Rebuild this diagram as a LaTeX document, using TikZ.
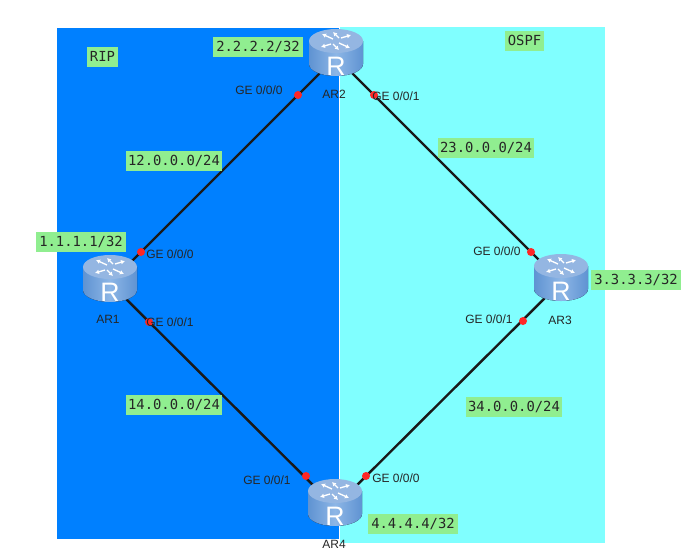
\documentclass[tikz,border=0pt]{standalone}
\usepackage{fontspec}
\setmainfont{Liberation Sans}
\newfontfamily\netfont{DejaVu Sans Mono}
\usetikzlibrary{arrows.meta}
\definecolor{ripblue}{HTML}{0080FF}
\definecolor{ospfcyan}{HTML}{80FFFF}
\definecolor{tagGreen}{HTML}{90EE90}
\definecolor{routerTop}{HTML}{94B6E2}
\definecolor{routerEdge}{HTML}{5F93D2}
\definecolor{routerMid}{HTML}{8DB6E6}
\tikzset{
  routerpt/.style={inner sep=0pt,minimum size=1pt},
  nettag/.style={fill=tagGreen,inner sep=0pt,minimum width=#1,minimum height=20*0.75pt,text=black!85,font=\netfont\fontsize{10.4}{12}\selectfont},
  nettag/.default=90*0.75pt,
  portdot/.style={circle,fill=red!85!white,inner sep=0pt,minimum size=8*0.75pt},
  porttext/.style={inner sep=0pt,text=black!85,font=\fontsize{9}{11}\selectfont},
  letterR/.style={inner sep=0pt,text=white,font=\fontsize{20}{22}\selectfont},
  link/.style={line width=1.8pt,black!90},
  cross/.style={white,line width=1pt,-{Latex[length=3pt,width=3.5pt]}},
}
% one router icon, over the node #1
\newcommand{\routericon}[1]{
  \begin{scope}[shift={(#1.center)}]
    \fill[left color=routerEdge,right color=routerEdge,middle color=routerMid] (-27,-16) -- (-27,7) arc[start angle=180,end angle=0,x radius=27,y radius=12] -- (27,-16) -- cycle;
    \fill[routerTop] (0,-16) ellipse[x radius=27,y radius=12];
    \draw[cross] (-3,-18) -- (-14,-23);
    \draw[cross] (3,-19) -- (-3,-25);
    \draw[cross] (3,-14) -- (14,-9);
    \draw[cross] (-3,-13) -- (3,-7);
    \draw[cross] (5,-19) -- (15,-22);
    \draw[cross] (-5,-13) -- (-15,-10);
    \node[letterR] (#1R) at (0,9) {R};
  \end{scope}
}

\begin{document}
\begin{tikzpicture}[x=0.75pt,y=-0.75pt]
  \useasboundingbox (0,0) rectangle (698,557);
  \fill[ospfcyan] (340,27) rectangle (605,543);
  \fill[ripblue] (57,28) rectangle (338.5,539);

  \node[routerpt] (AR1) at (110,283) {};
  \node[routerpt] (AR2) at (336,57) {};
  \node[routerpt] (AR3) at (561,282) {};
  \node[routerpt] (AR4) at (335,507) {};

  \draw[link] (AR2) -- (AR1);
  \draw[link] (AR2) -- (AR3);
  \draw[link] (AR1) -- (AR4);
  \draw[link] (AR3) -- (AR4);

  \routericon{AR1}
  \routericon{AR2}
  \routericon{AR3}
  \routericon{AR4}

  \node[porttext] (nameAR1) at (108,319) {AR1};
  \node[porttext] (nameAR2) at (334,94) {AR2};
  \node[porttext] (nameAR3) at (560,320) {AR3};
  \node[porttext] (nameAR4) at (334,544) {AR4};

  \node[portdot] (p21) at (298,95) {};
  \node[portdot] (p23) at (374,95) {};
  \node[portdot] (p12) at (141,252) {};
  \node[portdot] (p14) at (149,322) {};
  \node[portdot] (p32) at (531,252) {};
  \node[portdot] (p34) at (523,321) {};
  \node[portdot] (p41) at (306,476) {};
  \node[portdot] (p43) at (366,476) {};

  \node[porttext,anchor=west] (t21) at (235,90) {GE 0/0/0};
  \node[porttext,anchor=west] (t23) at (372,96) {GE 0/0/1};
  \node[porttext,anchor=west] (t12) at (146,254) {GE 0/0/0};
  \node[porttext,anchor=west] (t14) at (146,322) {GE 0/0/1};
  \node[porttext,anchor=west] (t32) at (473,251) {GE 0/0/0};
  \node[porttext,anchor=west] (t34) at (465,319) {GE 0/0/1};
  \node[porttext,anchor=west] (t41) at (243,480) {GE 0/0/1};
  \node[porttext,anchor=west] (t43) at (372,478) {GE 0/0/0};

  \node[nettag] (lo2) at (258,47) {2.2.2.2/32};
  \node[nettag] (lo1) at (81,242) {1.1.1.1/32};
  \node[nettag] (lo3) at (636,280) {3.3.3.3/32};
  \node[nettag] (lo4) at (413,524) {4.4.4.4/32};
  \node[nettag=96*0.75pt] (net12) at (174,161) {12.0.0.0/24};
  \node[nettag=96*0.75pt] (net23) at (486,148) {23.0.0.0/24};
  \node[nettag=96*0.75pt] (net14) at (174,405) {14.0.0.0/24};
  \node[nettag=96*0.75pt] (net34) at (514,407) {34.0.0.0/24};
  \node[nettag=31*0.75pt] (rip) at (102.5,56.5) {RIP};
  \node[nettag=39*0.75pt] (ospf) at (524.5,40.5) {OSPF};
\end{tikzpicture}
\end{document}
